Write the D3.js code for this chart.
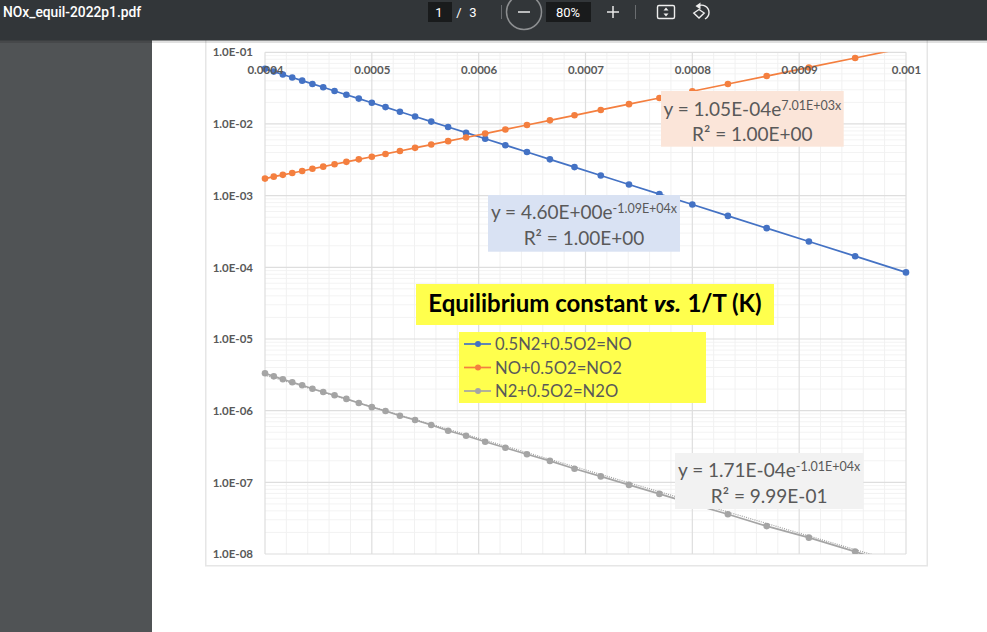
<!DOCTYPE html>
<html><head><meta charset="utf-8">
<script src="https://cdn.jsdelivr.net/npm/d3@7/dist/d3.min.js"></script>
<style>
html,body{margin:0;padding:0;background:#fff;overflow:hidden}
svg{display:block}
text{font-family:Lato,"Open Sans",sans-serif}
</style></head><body>
<svg id="c" width="987" height="632"></svg>
<script>
const reciprocalT = [0.0004,0.0004082,0.0004167,0.0004255,0.0004348,0.0004444,0.0004545,0.0004651,0.0004762,0.0004878,0.0005,0.0005128,0.0005263,0.0005405,0.0005556,0.0005714,0.0005882,0.0006061,0.000625,0.0006452,0.0006667,0.0006897,0.0007143,0.0007407,0.0007692,0.0008,0.0008333,0.0008696,0.0009091,0.0009524,0.001];
const seriesNO = [0.0588,0.0538,0.0490,0.0445,0.0402,0.0362,0.0325,0.0289,0.0256,0.0226,0.0198,0.0172,0.0148,0.0127,0.0108,0.00908,0.00756,0.00622,0.00506,0.00406,0.00321,0.00250,0.00191,0.00143,0.00105,0.000751,0.000522,0.000352,0.000229,0.000143,0.0000849];
const seriesNO2 = [0.00173,0.00184,0.00195,0.00207,0.00221,0.00237,0.00254,0.00274,0.00296,0.00321,0.00349,0.00382,0.00420,0.00464,0.00516,0.00576,0.00648,0.00735,0.00839,0.00967,0.01124,0.01321,0.01570,0.01889,0.02306,0.02863,0.03616,0.04662,0.06151,0.08332,0.1163];
const seriesN2O = [3.32e-6,3.01e-6,2.74e-6,2.49e-6,2.26e-6,2.02e-6,1.82e-6,1.64e-6,1.46e-6,1.28e-6,1.12e-6,9.9e-7,8.5e-7,7.4e-7,6.3e-7,5.25e-7,4.47e-7,3.69e-7,3.04e-7,2.46e-7,1.99e-7,1.55e-7,1.21e-7,9.2e-8,6.9e-8,5.0e-8,3.58e-8,2.45e-8,1.69e-8,1.08e-8,6.3e-9];
const trendN2OX = [0.0004,0.001];
const trendN2OY = [3.13e-6,7.1e-9];
const seriesNames = ["0.5N2+0.5O2=NO","NO+0.5O2=NO2","N2+0.5O2=N2O"];
const seriesColors = ["#4472c4","#f47f3f","#a5a5a5"];
const xTicks = [0.0004,0.0005,0.0006,0.0007,0.0008,0.0009,0.001];
const xTickLabels = ["0.0004","0.0005","0.0006","0.0007","0.0008","0.0009","0.001"];
const yTicks = [1e-1,1e-2,1e-3,1e-4,1e-5,1e-6,1e-7,1e-8];
const yTickLabels = ["1.0E-01","1.0E-02","1.0E-03","1.0E-04","1.0E-05","1.0E-06","1.0E-07","1.0E-08"];
const xMinor = [0.00042,0.00044,0.00046,0.00048,0.00052,0.00054,0.00056,0.00058,0.00062,0.00064,0.00066,0.00068,0.00072,0.00074,0.00076,0.00078,0.00082,0.00084,0.00086,0.00088,0.00092,0.00094,0.00096,0.00098];
const minorMultipliers = [2,3,4,5,6,7,8,9];

const svg = d3.select("#c");
const x = d3.scaleLinear().domain([0.0004,0.001]).range([265,906]);
const y = d3.scaleLog().domain([1e-8,1e-1]).range([554,52.3]);

// viewer page
svg.append("rect").attr("width",987).attr("height",632).attr("fill","#fff");
svg.append("rect").attr("x",0).attr("y",40).attr("width",152).attr("height",592).attr("fill","#505355");
svg.append("rect").attr("x",205.75).attr("y",30).attr("width",721.5).attr("height",535.75).attr("fill","#fff").attr("stroke","#e6e6e6").attr("stroke-width",1.5);

// gridlines
const g = svg.append("g");
const minorY = yTicks.slice(1).flatMap(t => minorMultipliers.map(m => t*m));
g.selectAll(".hm").data(minorY).join("line")
 .attr("x1",265).attr("x2",906).attr("y1",d=>y(d)).attr("y2",d=>y(d)).attr("stroke","#f3f3f3").attr("stroke-width",1);
g.selectAll(".vm").data(xMinor).join("line")
 .attr("y1",52.3).attr("y2",554).attr("x1",d=>x(d)).attr("x2",d=>x(d)).attr("stroke","#f1f1f1").attr("stroke-width",1);
g.selectAll(".hM").data(yTicks).join("line")
 .attr("x1",265).attr("x2",906).attr("y1",d=>y(d)).attr("y2",d=>y(d)).attr("stroke","#dedede").attr("stroke-width",1.2);
g.selectAll(".vM").data(xTicks).join("line")
 .attr("y1",52.3).attr("y2",554).attr("x1",d=>x(d)).attr("x2",d=>x(d)).attr("stroke","#dedede").attr("stroke-width",1.2);

// series
svg.append("clipPath").attr("id","plot").append("rect").attr("x",260).attr("y",52.3).attr("width",650).attr("height",501.7);
const plot = svg.append("g").attr("clip-path","url(#plot)");
const line = d3.line().x(d=>x(d[0])).y(d=>y(d[1]));
[seriesNO,seriesNO2,seriesN2O].forEach((vals,i)=>{
  const pts = vals.map((v,j)=>[reciprocalT[j],v]);
  plot.append("path").attr("d",line(pts)).attr("fill","none").attr("stroke",seriesColors[i]).attr("stroke-width",1.7);
  plot.selectAll(null).data(pts).join("circle").attr("cx",d=>x(d[0])).attr("cy",d=>y(d[1])).attr("r",3.3).attr("fill",seriesColors[i]);
});
plot.append("path").attr("d",line(trendN2OX.map((v,j)=>[v,trendN2OY[j]])))
 .attr("fill","none").attr("stroke","#a0a0a0").attr("stroke-width",1.2).attr("stroke-dasharray","1 1.2");

// axes
const xAxis = d3.axisTop(x).tickValues(xTicks).tickSize(0).tickPadding(0).tickFormat((d,i)=>xTickLabels[i]);
const ax = svg.append("g").attr("transform","translate(0,73.5)").call(xAxis);
ax.select(".domain").remove();
ax.selectAll("text").attr("fill","#595959").attr("font-size",11.5).attr("font-weight",700).style("font-family","Lato,sans-serif");
const yAxis = d3.axisLeft(y).tickValues(yTicks).tickSize(0).tickPadding(12).tickFormat((d,i)=>yTickLabels[i]);
const ay = svg.append("g").attr("transform","translate(265,0)").call(yAxis);
ay.select(".domain").remove();
ay.selectAll("text").attr("fill","#595959").attr("font-size",11.5).attr("font-weight",700).style("font-family","Lato,sans-serif");

// equation boxes
function eqBox(bx,by,bw,bh,fill,main,sup,r2,line1){
  svg.append("rect").attr("x",bx).attr("y",by).attr("width",bw).attr("height",bh).attr("fill",fill);
  const t = svg.append("text").attr("x",bx+bw/2).attr("y",by+line1).attr("text-anchor","middle").attr("fill","#595959").attr("font-size",19);
  t.append("tspan").text(main);
  t.append("tspan").attr("font-size",12.5).attr("dy",-6).text(sup);
  svg.append("text").attr("x",bx+bw/2).attr("y",by+bh*0.89).attr("text-anchor","middle").attr("fill","#595959").attr("font-size",19).text("R² = "+r2);
}
eqBox(661,91,182.7,55.7,"#fbe5d9","y = 1.05E-04e","7.01E+03x","1.00E+00",25);
eqBox(488,195,192,56.7,"#d9e2f3","y = 4.60E+00e","-1.09E+04x","1.00E+00",24);
eqBox(675,453,188.3,56,"#f2f2f2","y = 1.71E-04e","-1.01E+04x","9.99E-01",24);

// title
svg.append("rect").attr("x",416).attr("y",284).attr("width",358).attr("height",41).attr("fill","#ffff4d");
const tt = svg.append("text").attr("x",595).attr("y",312).attr("text-anchor","middle").attr("fill","#000").attr("font-size",24).attr("font-weight",700);
tt.append("tspan").text("Equilibrium constant ");
tt.append("tspan").attr("font-style","italic").style("font-family","'Open Sans',sans-serif").attr("font-size",22).text("vs.");
tt.append("tspan").text(" 1/T (K)");

// legend
svg.append("rect").attr("x",459).attr("y",332).attr("width",247).attr("height",71).attr("fill","#ffff4d");
seriesNames.forEach((n,i)=>{
  const ly = 344+i*23.5;
  svg.append("line").attr("x1",464).attr("x2",491).attr("y1",ly).attr("y2",ly).attr("stroke",seriesColors[i]).attr("stroke-width",1.7);
  svg.append("circle").attr("cx",478).attr("cy",ly).attr("r",3).attr("fill",seriesColors[i]);
  svg.append("text").attr("x",495).attr("y",ly+6).attr("fill","#595959").attr("font-size",16.6).text(n);
});

// viewer toolbar
const tb = svg.append("g");
tb.append("rect").attr("x",0).attr("y",40).attr("width",987).attr("height",3).attr("fill","#000").attr("opacity",0.12);
tb.append("rect").attr("width",987).attr("height",40.5).attr("fill","#323639");
const rb = "Roboto,sans-serif";
tb.append("text").attr("x",3).attr("y",17).attr("fill","#fff").attr("font-size",13.8).attr("font-weight",500).style("font-family",rb).text("NOx_equil-2022p1.pdf");
tb.append("rect").attr("x",428).attr("y",2).attr("width",24).attr("height",20).attr("fill","#191b1c");
tb.append("text").attr("x",439).attr("y",17).attr("text-anchor","middle").attr("fill","#fff").attr("font-size",13).style("font-family",rb).text("1");
tb.append("text").attr("x",459).attr("y",17).attr("text-anchor","middle").attr("fill","#fff").attr("font-size",13).style("font-family",rb).text("/");
tb.append("text").attr("x",473).attr("y",17).attr("text-anchor","middle").attr("fill","#fff").attr("font-size",13).style("font-family",rb).text("3");
tb.append("line").attr("x1",501.5).attr("x2",501.5).attr("y1",5).attr("y2",19).attr("stroke","#6a6d70");
tb.append("circle").attr("cx",524).attr("cy",12).attr("r",17.5).attr("fill","none").attr("stroke","#8d8f91").attr("stroke-width",1.5);
tb.append("line").attr("x1",518).attr("x2",530).attr("y1",12).attr("y2",12).attr("stroke","#e8e8e8").attr("stroke-width",1.5);
tb.append("rect").attr("x",546).attr("y",2).attr("width",45).attr("height",20).attr("fill","#191b1c");
tb.append("text").attr("x",568).attr("y",17).attr("text-anchor","middle").attr("fill","#fff").attr("font-size",13).style("font-family",rb).text("80%");
tb.append("line").attr("x1",607).attr("x2",619).attr("y1",12).attr("y2",12).attr("stroke","#e8e8e8").attr("stroke-width",1.5);
tb.append("line").attr("x1",613).attr("x2",613).attr("y1",6).attr("y2",18).attr("stroke","#e8e8e8").attr("stroke-width",1.5);
tb.append("line").attr("x1",635.5).attr("x2",635.5).attr("y1",5).attr("y2",19).attr("stroke","#6a6d70");
tb.append("rect").attr("x",657.5).attr("y",5.5).attr("width",17).attr("height",13).attr("rx",1.5).attr("fill","none").attr("stroke","#eee").attr("stroke-width",1.4);
tb.append("path").attr("d","M666 7.5l2.5 3h-5zM666 16.5l2.5-3h-5z").attr("fill","#eee");
tb.append("path").attr("d","M699 9.5l-5.2 3.5 5.2 5 5.2-5z").attr("fill","none").attr("stroke","#eee").attr("stroke-width",1.4);
tb.append("path").attr("d","M697 6.5c6-3.5 12 .5 12 6 0 3-1.5 5-4 6.5").attr("fill","none").attr("stroke","#eee").attr("stroke-width",1.4);
tb.append("path").attr("d","M700.5 2.5v7l-5-3.5z").attr("fill","#eee");
</script>
</body></html>
